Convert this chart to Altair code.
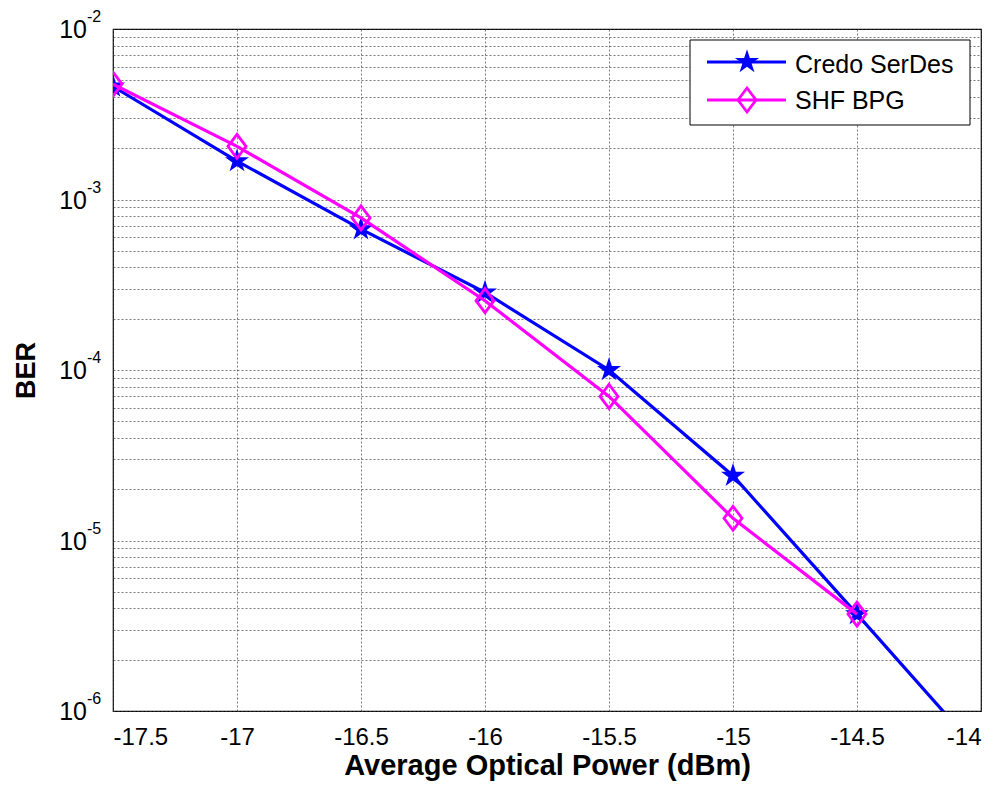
import altair as alt
import pandas as pd

# ---- data ----
power = [-17.5, -17.0, -16.5, -16.0, -15.5, -15.0, -14.5, -14.0]
credo_ber = [4.6e-3, 1.68e-3, 6.7e-4, 2.85e-4, 1.0e-4, 2.4e-5, 3.7e-6, 5.6e-7]
shf_power = [-17.5, -17.0, -16.5, -16.0, -15.5, -15.0, -14.5]
shf_ber = [4.75e-3, 2.05e-3, 7.8e-4, 2.55e-4, 7.0e-5, 1.35e-5, 3.7e-6]
series_names = ["Credo SerDes", "SHF BPG"]
x_ticks = [-17.5, -17.0, -16.5, -16.0, -15.5, -15.0, -14.5, -14.0]
y_decades = [1e-2, 1e-3, 1e-4, 1e-5, 1e-6]
y_exponents = ["-2", "-3", "-4", "-5", "-6"]
y_grid = [m * 10.0 ** e for e in range(-6, -2) for m in range(1, 10)] + [1e-2]

FONT = "Liberation Sans"
BLUE = "#0000FF"
MAG = "#FF00FF"
STAR = ("M0,-1L0.225,-0.309L0.951,-0.309L0.363,0.118L0.588,0.809L0,0.382"
        "L-0.588,0.809L-0.363,0.118L-0.951,-0.309L-0.225,-0.309Z")
DIAM = "M0,-1L0.75,0L0,1L-0.75,0Z"
STAR_SIZE = 640
DIAM_SIZE = 576

df_credo = pd.DataFrame({"x": power, "y": credo_ber})
df_shf = pd.DataFrame({"x": shf_power, "y": shf_ber})
df_dec = pd.DataFrame({"y": y_decades, "base": ["10"] * len(y_decades), "exp": y_exponents})

xscale = alt.Scale(domain=[-17.5, -14.0], nice=False, zero=False)
yscale = alt.Scale(type="log", domain=[1e-6, 1e-2], nice=False)

xaxis = alt.Axis(values=x_ticks, labelExpr="'' + datum.value", ticks=False, domain=False,
                 grid=True, gridColor="#404040", gridDash=[2, 2], gridWidth=0.7,
                 labelFont=FONT, labelFontSize=24, labelColor="black", labelPadding=14,
                 title="Average Optical Power (dBm)", titleFont=FONT, titleFontSize=29,
                 titleFontWeight="bold", titleColor="black", titlePadding=2)
yaxis = alt.Axis(values=y_grid, labels=False, ticks=False, domain=False,
                 grid=True, gridColor="#404040", gridDash=[2, 2], gridWidth=0.7,
                 title="BER", titleFont=FONT, titleFontSize=27, titleFontWeight="bold",
                 titleColor="black", titleAngle=270, titleX=-87, titleY=341,
                 titleAlign="center", titleBaseline="middle")

X = alt.X("x:Q", scale=xscale, axis=xaxis)
Y = alt.Y("y:Q", scale=yscale, axis=yaxis)

credo_line = alt.Chart(df_credo).mark_line(color=BLUE, strokeWidth=3.2, clip=True).encode(x=X, y=Y)
credo_pts = alt.Chart(df_credo).mark_point(shape=STAR, size=STAR_SIZE, filled=True, color=BLUE,
                                           opacity=1, clip=True).encode(x=X, y=Y)
shf_line = alt.Chart(df_shf).mark_line(color=MAG, strokeWidth=3.2, clip=True).encode(x=X, y=Y)
shf_pts = alt.Chart(df_shf).mark_point(shape=DIAM, size=DIAM_SIZE, filled=False, color=MAG,
                                       strokeWidth=2.8, opacity=1, clip=True).encode(x=X, y=Y)

ylab_base = alt.Chart(df_dec).mark_text(font=FONT, fontSize=25, align="right", baseline="middle",
                                        dy=1, color="black").encode(
    x=alt.value(-26), y=Y, text="base:N")
ylab_exp = alt.Chart(df_dec).mark_text(font=FONT, fontSize=16, align="left", baseline="middle",
                                       dy=-12, color="black").encode(
    x=alt.value(-26), y=Y, text="exp:N")

# ---- legend (decoration) ----
leg1 = pd.DataFrame({"name": [series_names[0]]})
leg2 = pd.DataFrame({"name": [series_names[1]]})
leg_box = alt.Chart(leg1).mark_rect(fill="white", stroke="black", strokeWidth=1).encode(
    x=alt.value(577), x2=alt.value(857), y=alt.value(11), y2=alt.value(96))
leg_l1 = alt.Chart(leg1).mark_rule(color=BLUE, strokeWidth=3.2).encode(
    x=alt.value(594), x2=alt.value(673), y=alt.value(33))
leg_p1 = alt.Chart(leg1).mark_point(shape=STAR, size=STAR_SIZE, filled=True, color=BLUE,
                                    opacity=1).encode(
    x=alt.value(634), y=alt.value(33))
leg_t1 = alt.Chart(leg1).mark_text(font=FONT, fontSize=25, align="left", baseline="middle",
                                   color="black").encode(
    x=alt.value(682), y=alt.value(36), text="name:N")
leg_l2 = alt.Chart(leg2).mark_rule(color=MAG, strokeWidth=3.2).encode(
    x=alt.value(594), x2=alt.value(673), y=alt.value(71))
leg_p2 = alt.Chart(leg2).mark_point(shape=DIAM, size=DIAM_SIZE, filled=False, color=MAG,
                                    strokeWidth=2.8, opacity=1).encode(
    x=alt.value(634), y=alt.value(71))
leg_t2 = alt.Chart(leg2).mark_text(font=FONT, fontSize=25, align="left", baseline="middle",
                                   color="black").encode(
    x=alt.value(682), y=alt.value(72), text="name:N")

chart = alt.layer(
    credo_line, credo_pts, shf_line, shf_pts, ylab_base, ylab_exp,
    leg_box, leg_l1, leg_p1, leg_t1, leg_l2, leg_p2, leg_t2
).properties(
    width=868, height=682,
    autosize=alt.AutoSizeParams(type="none"),
    padding={"left": 105, "top": 21, "right": 5, "bottom": 70},
    background="white",
).configure_view(stroke="black", strokeWidth=1.2)

chart.save("out.html", embed_options={"renderer": "svg", "actions": False})
